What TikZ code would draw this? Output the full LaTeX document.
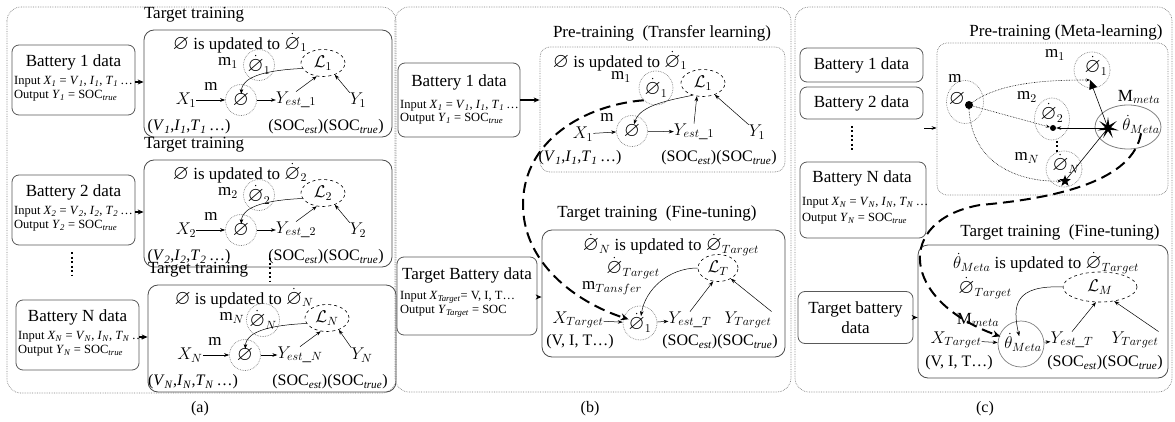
\RequirePackage{fix-cm}
\documentclass[tikz,border=0pt]{standalone}
\usepackage{amssymb}
\usepackage{graphicx}
\usepackage{fontspec}
\setmainfont{Liberation Serif}
\usetikzlibrary{arrows.meta,shapes.geometric}

\newcommand{\fs}[1]{\fontsize{#1}{#1}\selectfont}
\newcommand{\ph}{\mathord{\scalebox{1.22}{$\varnothing$}}}
\newcommand{\phd}{\dot{\ph}}
% italic variable with a subscript, set in the text font
\newcommand{\iv}[2]{\textit{#1}\textsubscript{\textit{#2}}}
\newcommand{\soc}[1]{SOC\textsubscript{\textit{#1}}}

\tikzset{
  panel/.style={draw=gray, densely dotted, rounded corners=14pt, line width=0.7pt},
  tbox/.style={draw=black!70, rounded corners=10pt, line width=0.8pt},
  pbox/.style={draw=gray, densely dotted, rounded corners=10pt, line width=0.7pt},
  bbox/.style={draw=black!65, rounded corners=7pt, line width=0.8pt},
  phic/.style={circle, draw=gray, densely dotted, line width=0.7pt, minimum size=31pt, inner sep=0pt, font=\fs{17}},
  solidc/.style={circle, draw=gray, line width=0.7pt, minimum size=46pt, inner sep=0pt},
  lossell/.style={ellipse, draw, dashed, line width=0.6pt, minimum width=44pt, minimum height=27pt, inner sep=0pt, font=\fs{17}},
  txt/.style={inner sep=0pt, font=\fs{17}},
  vtxt/.style={inner sep=0pt, font=\fs{16}},
  smalltxt/.style={inner sep=0pt, font=\fs{12.5}, anchor=west},
  caption/.style={inner sep=0pt, font=\fs{16}},
  arr/.style={-{Stealth[length=5pt,width=3.6pt]}, line width=0.5pt},
  barr/.style={-{Stealth[length=6pt,width=5pt]}, line width=1.4pt},
  darr/.style={densely dotted, line width=0.6pt, -{Stealth[length=4pt,width=3pt]}},
  bigdash/.style={line width=2pt, dash pattern=on 11pt off 6pt, -{Stealth[length=8pt,width=7pt]}},
  vdots/.style={line width=2.2pt, dash pattern=on 2pt off 2.5pt},
}

% one row of panel (a): battery data feeding a target-training box
\newcommand{\rowA}[2]{%
  \node[txt] (#1lab) at (194,15) {Target training};
  \node[tbox, minimum width=248pt, minimum height=107pt] (#1tb) at (268,83.5) {};
  \node[bbox, minimum width=123pt, minimum height=70pt] (#1bb) at (73.5,80) {};
  \node[txt] (#1bt) at (73.5,62) {Battery #2 data};
  \node[smalltxt] (#1in) at (14,82) {Input \iv{X}{#2} = \iv{V}{#2}, \iv{I}{#2}, \iv{T}{#2}\,\ldots};
  \node[smalltxt] (#1out) at (14,96) {Output \iv{Y}{#2} = \soc{true}};
  \draw[barr] (#1bb.east |- #1in) -- (#1tb.west |- #1in);
  \node[txt] (#1up) at (240,43) {$\ph$ is updated to $\phd_#2$};
  \node[txt] (#1m) at (228,63) {m$_#2$};
  \node[phic] (#1p1) at (259,65) {$\phd_#2$};
  \node[lossell] (#1L) at (323,63) {$\mathcal{L}_#2$};
  \node[txt] (#1X) at (186,100) {$X_#2$};
  \node[txt] (#1m0) at (211,86) {m};
  \node[phic] (#1p0) at (241,100) {$\ph$};
  \node[txt] (#1Ye) at (296,100) {$Y_{est\_#2}$};
  \node[txt] (#1Y) at (358,100) {$Y_#2$};
  \node[vtxt] (#1V) at (189,127) {(\iv{V}{#2},\iv{I}{#2},\iv{T}{#2}\,\ldots)};
  \node[vtxt] (#1S) at (326,127) {(\soc{est})(\soc{true})};
  \draw[arr] (#1X) -- (#1p0);
  \draw[arr] (#1p0) -- (#1Ye);
  \draw[arr] (#1Ye.north) -- (#1L.-115);
  \draw[arr] (#1Y.north west) -- (#1L.-45);
  \draw[arr, shorten >=6pt] (#1L.195) .. controls (268,70) and (242,76) .. (#1p0.center);
}

\begin{document}
\begin{tikzpicture}[x=1pt, y=-1pt]
\useasboundingbox (0,0) rectangle (1175,422);

% ---------------- panel (a) ----------------
\draw[panel] (7,7) rectangle (396,393);
\begin{scope}
  \rowA{ra}{1}
\end{scope}
\begin{scope}[yshift=-130pt]
  \rowA{rb}{2}
\end{scope}
\begin{scope}[yshift=-255pt, xshift=4pt]
  \rowA{rc}{N}
\end{scope}
\draw[vdots] (72,252) -- (72,276);
\draw[vdots] (270,258) -- (270,282);
\node[caption] (capa) at (200,409) {(a)};

% ---------------- panel (b) ----------------
\draw[panel] (395,7) rectangle (791,392);
\node[txt] (bprelab) at (662,33) {Pre-training\ \ (Transfer learning)};
\node[pbox, minimum width=245pt, minimum height=125pt] (bpre) at (662.5,109.5) {};
\node[bbox, minimum width=122pt, minimum height=74pt] (bb1) at (459,100) {};
\node[txt] (bb1t) at (459,82) {Battery 1 data};
\node[smalltxt] (bb1in) at (400,106) {Input \iv{X}{1} = \iv{V}{1}, \iv{I}{1}, \iv{T}{1}\,\ldots};
\node[smalltxt] (bb1out) at (400,119) {Output \iv{Y}{1} = \soc{true}};
\draw[barr] (bb1.east) -- (bpre.west |- bb1.east);
\node[txt] (bup) at (620,61) {$\ph$ is updated to $\phd_1$};
\node[txt] (bm1) at (621,77) {m$_1$};
\node[phic, minimum size=34pt] (bp1) at (656,88) {$\phd_1$};
\node[lossell] (bL1) at (703,83) {$\mathcal{L}_1$};
\node[txt] (bX1) at (583,134) {$X_1$};
\node[txt] (bm) at (607,117) {m};
\node[phic] (bp0) at (632,131) {$\ph$};
\node[txt] (bYe) at (694,132) {$Y_{est\_1}$};
\node[txt] (bY1) at (757,132) {$Y_1$};
\node[vtxt] (bV) at (580,158) {(\iv{V}{1},\iv{I}{1},\iv{T}{1}\,\ldots)};
\node[vtxt] (bS) at (719,158) {(\soc{est})(\soc{true})};
\draw[arr] (bX1) -- (bp0);
\draw[arr] (bp0) -- (bYe);
\draw[arr] (bYe.north) -- (bL1.-115);
\draw[arr] (bY1.north west) -- (bL1.-45);
\draw[arr, shorten >=7pt] (bL1.230) .. controls (670,100) and (640,105) .. (bp0.center);

\node[txt] (btlab) at (657,213) {Target training\ \ (Fine-tuning)};
\node[tbox, minimum width=243pt, minimum height=127pt] (btb) at (663.5,293.5) {};
\node[bbox, minimum width=140pt, minimum height=78pt] (btd) at (467,296) {};
\node[txt] (btdt) at (467,275) {Target Battery data};
\node[smalltxt] (btdin) at (400,297) {Input \iv{X}{Target}= V, I, T\ldots};
\node[smalltxt] (btdout) at (400,311) {Output \iv{Y}{Target} = SOC};
\draw[barr] (btd.east |- btdin) -- (btb.west |- btdin);
\node[txt] (btup) at (671,245) {$\phd_N$ is updated to $\phd_{Target}$};
\node[txt] (btpt) at (633,268) {$\phd_{Target}$};
\node[lossell, minimum width=40pt, minimum height=27pt] (bLT) at (718,268) {$\mathcal{L}_T$};
\node[txt] (btm) at (612,288) {m$_{Tansfer}$};
\node[txt] (btX) at (578,320) {$X_{Target}$};
\node[phic, minimum size=34pt] (btp1) at (640,323) {$\phd_1$};
\node[txt] (btYe) at (690,320) {$Y_{est\_T}$};
\node[txt] (btY) at (748,320) {$Y_{Target}$};
\node[vtxt] (btV) at (580,342) {(V, I, T\ldots)};
\node[vtxt] (btS) at (720,342) {(\soc{est})(\soc{true})};
\draw[arr] (btX) -- (btp1);
\draw[arr] (btp1) -- (btYe);
\draw[arr] (btYe.north) -- (bLT.-110);
\draw[arr] (btY.north east) -- (bLT.-40);
\draw[arr, shorten >=7pt] (bLT.west) .. controls (668,268) and (645,290) .. (btp1.center);
% transfer of the pre-trained weights
\draw[bigdash, shorten >=12pt] (bp1.225) .. controls (585,105) and (524,140) .. (523,203)
  .. controls (522,262) and (575,302) .. (btp1.center);
\node[caption] (capb) at (590,409) {(b)};

% ---------------- panel (c) ----------------
\draw[panel] (795,7) rectangle (1172,392);
\node[txt] (cprelab) at (1066,32) {Pre-training (Meta-learning)};
\node[pbox, minimum width=231pt, minimum height=152pt] (cpre) at (1052.5,119) {};
\node[bbox, minimum width=123pt, minimum height=34pt] (cb1) at (861.5,65) {};
\node[txt] (cb1t) at (861.5,65) {Battery 1 data};
\node[bbox, minimum width=123pt, minimum height=32pt] (cb2) at (861.5,103) {};
\node[txt] (cb2t) at (861.5,103) {Battery 2 data};
\draw[vdots] (852,126) -- (852,152);
\node[bbox, minimum width=126pt, minimum height=76pt] (cbn) at (863,200) {};
\node[txt] (cbnt) at (862,178) {Battery N data};
\node[smalltxt] (cbnin) at (802,203) {Input \iv{X}{N} = \iv{V}{N}, \iv{I}{N}, \iv{T}{N}\,\ldots};
\node[smalltxt] (cbnout) at (802,219) {Output \iv{Y}{N} = \soc{true}};
\coordinate (cin) at (924,128);
\draw[arr, line width=0.8pt] (cin) -- (cpre.west |- cin);

\node[txt] (cm0) at (955,78) {m};
\node[ellipse, draw=gray, densely dotted, line width=0.7pt, minimum width=37pt, minimum height=43pt] (cc0) at (965,102) {};
\node[txt] (cph) at (957,99) {$\ph$};
\node[circle, fill, inner sep=0pt, minimum size=8pt] (cd0) at (969,105) {};
\node[txt] (cm1) at (1055,55) {m$_1$};
\node[phic, minimum size=36pt] (cc1) at (1092,70) {};
\node[txt] (cp1) at (1096,66) {$\phd_1$};
\node[txt] (cm2) at (1027,97) {m$_2$};
\node[ellipse, draw=gray, densely dotted, line width=0.7pt, minimum width=35pt, minimum height=42pt] (cc2) at (1052,119) {};
\node[txt] (cp2) at (1052,113) {$\phd_2$};
\node[circle, fill, inner sep=0pt, minimum size=6pt] (cd2) at (1053,128) {};
\node[txt] (cmn) at (1027,158) {m$_N$};
\node[phic, minimum size=36pt] (ccn) at (1064,169) {};
\node[txt] (cpn) at (1066,164) {$\phd_N$};
\node[star, star points=5, star point ratio=2.4, fill, inner sep=0pt, minimum size=12pt] (csn) at (1065,181) {};
\draw[vdots, line width=1.8pt] (1057,141) -- (1057,152);
\node[txt] (cMl) at (1139,97) {M$_{meta}$};
\node[ellipse, draw=gray, line width=0.8pt, minimum width=66pt, minimum height=44pt] (cM) at (1128,127) {};
\node[txt] (cth) at (1141,124) {$\dot\theta_{Meta}$};
\node[star, star points=7, star point ratio=3.6, fill, inner sep=0pt, minimum size=22pt] (cstar) at (1108,128) {};
\coordinate (ctri) at (1090,80);
\draw[line width=0.6pt, -{Triangle[length=9pt,width=8pt]}] (cstar.center) -- (ctri);
\draw[arr, line width=0.6pt] (cstar.center) -- (cd2);
\draw[line width=0.6pt] (cstar.center) -- (csn.center);
\draw[darr] (cd0) .. controls (1000,82) and (1050,80) .. (ctri);
\draw[darr] (cd0) -- (cd2);
\draw[darr] (cd0.south) .. controls (972,165) and (1020,182) .. (csn);

\node[txt] (ctlab) at (1060,232) {Target training\ \ (Fine-tuning)};
\node[tbox, minimum width=250pt, minimum height=133pt] (ctb) at (1043,311.5) {};
\node[bbox, minimum width=115pt, minimum height=52pt, align=center, font=\fs{17}, inner sep=0pt] (ctd) at (855.5,317.5) {Target battery\\[3pt]data};
\draw[barr] (ctd.east) -- (ctb.west |- ctd.east);
\node[txt] (ctup) at (1046,263) {$\dot\theta_{Meta}$ is updated to $\phd_{Target}$};
\node[txt] (ctpt) at (985,288) {$\phd_{Target}$};
\node[lossell, minimum width=74pt, minimum height=30pt] (cLM) at (1100,287) {$\mathcal{L}_M$};
\node[txt] (ctM) at (978,320) {M$_{meta}$};
\node[txt] (ctX) at (956,340) {$X_{Target}$};
\node[solidc] (ctc) at (1021,344) {};
\node[txt] (ctth) at (1023,342) {$\dot\theta_{Meta}$};
\node[txt] (ctYe) at (1072,340) {$Y_{est\_T}$};
\node[txt] (ctY) at (1135,340) {$Y_{Target}$};
\node[vtxt] (ctV) at (959,363) {(V, I, T\ldots)};
\node[vtxt] (ctS) at (1105,363) {(\soc{est})(\soc{true})};
\draw[arr] (ctX) -- (ctc);
\draw[arr] (ctc) -- (ctYe);
\draw[arr] (ctYe.north) -- (cLM.-105);
\draw[arr] (ctY.north east) -- (cLM.-45);
\draw[arr, shorten >=8pt] (cLM.west) .. controls (1015,285) and (1012,305) .. (ctc.center);
% meta-learned weights handed to the target model
\draw[bigdash, shorten >=22pt] (cth.south) .. controls (1133,180) and (1060,198) .. (980,205)
  .. controls (895,220) and (900,300) .. (ctc.center);
\node[caption] (capc) at (985,409) {(c)};
\end{tikzpicture}
\end{document}
